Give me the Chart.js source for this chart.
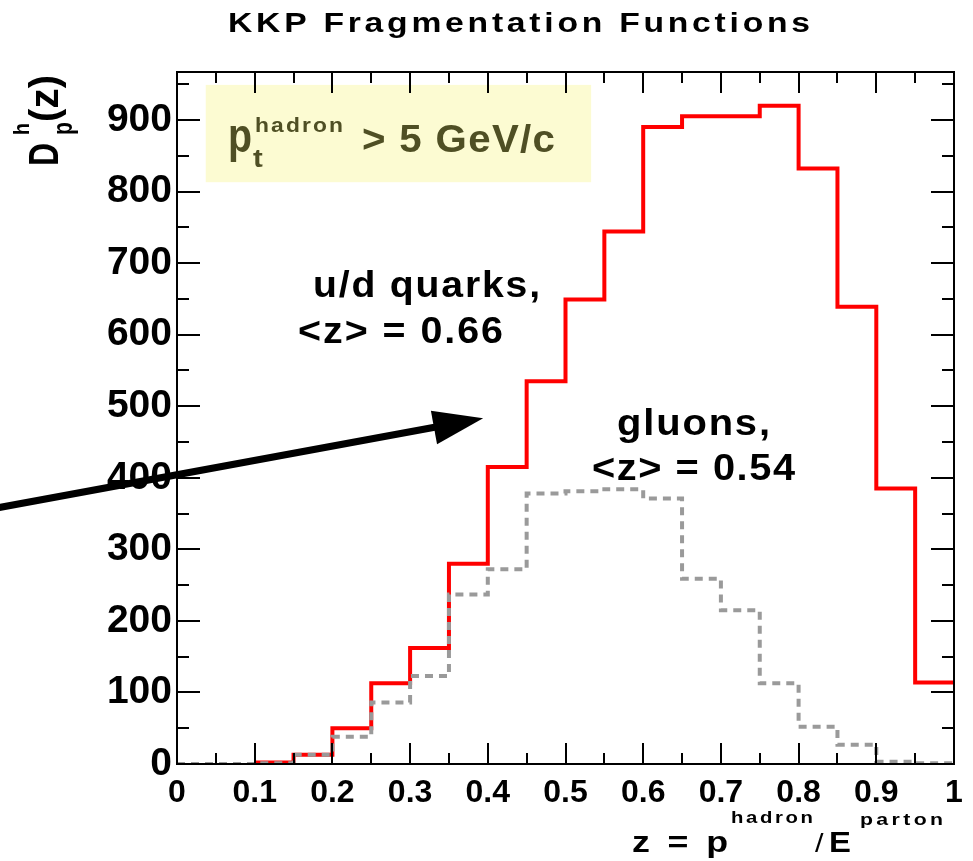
<!DOCTYPE html>
<html>
<head>
<meta charset="utf-8">
<script src="https://cdn.jsdelivr.net/npm/chart.js@4.4.0/dist/chart.umd.min.js"></script>
<style>
	html, body { margin: 0; padding: 0; background: #fff; }
</style>
</head>
<body>
<canvas id="graficoKkp" width="973" height="861"></canvas>
<script>
// bordas esquerdas dos bins (largura 0.05) e a borda final
var limitesBins = [0, 0.05, 0.10, 0.15, 0.20, 0.25, 0.30, 0.35, 0.40, 0.45, 0.50,
	0.55, 0.60, 0.65, 0.70, 0.75, 0.80, 0.85, 0.90, 0.95, 1.00];
// D(z) por bin
var quarksUD = [null, null, 2, 13, 50, 113, 162, 280, 415, 535, 649, 744, 890, 905, 905, 920, 832, 639, 385, 114];
var gluons = [0, 0, 1, 13, 38, 86, 123, 237, 272, 378, 381, 384, 371, 259, 215, 113, 52, 27, 3, 1];

var ticksX = [0, 0.1, 0.2, 0.3, 0.4, 0.5, 0.6, 0.7, 0.8, 0.9, 1];
var rotulosX = ['0', '0.1', '0.2', '0.3', '0.4', '0.5', '0.6', '0.7', '0.8', '0.9', '1'];
var ticksY = [0, 100, 200, 300, 400, 500, 600, 700, 800, 900];
var rotulosY = ['0', '100', '200', '300', '400', '500', '600', '700', '800', '900'];

var FONTE = "'Liberation Sans', Arial, Helvetica, sans-serif";

function pontosHistograma(valores) {
	var pontos = [];
	valores.forEach(function(v, i) {
		pontos.push({ x: limitesBins[i], y: v });
	});
	pontos.push({ x: limitesBins[valores.length], y: valores[valores.length - 1] });
	return pontos;
}

// escreve o texto até a largura pedida: parte esticando as letras, parte no espaçamento
function escreveAjustado(ctx, texto, x, y, fonte, largura) {
	ctx.save();
	ctx.font = fonte;
	ctx.letterSpacing = '0px';
	var natural = ctx.measureText(texto).width;
	var razao = largura / natural;
	var esc = razao < 1 ? razao : Math.min(Math.sqrt(razao), 1.25);
	ctx.translate(x, y);
	ctx.scale(esc, 1);
	if (texto.length > 1 && razao > esc) {
		ctx.letterSpacing = ((largura / esc - natural) / (texto.length - 1)) + 'px';
	}
	ctx.fillText(texto, 0, 0);
	ctx.restore();
}

var moldura = {
	id: 'moldura',
	beforeDatasetsDraw: function(chart) {
		var ctx = chart.ctx;
		var sx = chart.scales.x, sy = chart.scales.y;
		// caixa amarela do corte em pt
		var x0 = sx.getPixelForValue(0.037), x1 = sx.getPixelForValue(0.533);
		var y0 = sy.getPixelForValue(949), y1 = sy.getPixelForValue(813);
		ctx.save();
		ctx.fillStyle = '#fcfbd2';
		ctx.fillRect(x0, y0, x1 - x0, y1 - y0);
		ctx.restore();
	},
	afterDraw: function(chart) {
		var ctx = chart.ctx;
		var area = chart.chartArea;
		var sx = chart.scales.x, sy = chart.scales.y;
		ctx.save();

		// moldura e ticks para dentro, nos quatro lados
		ctx.strokeStyle = '#000';
		ctx.lineWidth = 2;
		ctx.strokeRect(area.left, area.top, area.right - area.left, area.bottom - area.top);
		ctx.beginPath();
		for (var vx = 0; vx <= 1.0001; vx += 0.05) {
			var px = Math.round(sx.getPixelForValue(vx));
			var maior = Math.abs(vx * 10 - Math.round(vx * 10)) < 0.01;
			var tl = maior ? 21 : 11;
			ctx.moveTo(px, area.bottom); ctx.lineTo(px, area.bottom - tl);
			ctx.moveTo(px, area.top); ctx.lineTo(px, area.top + tl);
		}
		for (var vy = 0; vy <= sy.max; vy += 50) {
			var py = Math.round(sy.getPixelForValue(vy));
			var tly = (vy % 100 === 0) ? 23 : 12;
			ctx.moveTo(area.left, py); ctx.lineTo(area.left + tly, py);
			ctx.moveTo(area.right, py); ctx.lineTo(area.right - tly, py);
		}
		ctx.stroke();

		// titulo
		ctx.fillStyle = '#000';
		ctx.textBaseline = 'alphabetic';
		ctx.textAlign = 'left';
		escreveAjustado(ctx, 'KKP Fragmentation Functions', 228, 32, 'bold 28px ' + FONTE, 582);

		// texto da caixa amarela
		ctx.fillStyle = '#4f4f24';
		escreveAjustado(ctx, 'p', 228, 152, 'bold 48px ' + FONTE, 24);
		escreveAjustado(ctx, 'hadron', 255, 132, 'bold 20px ' + FONTE, 88);
		escreveAjustado(ctx, 't', 253, 167, 'bold 26px ' + FONTE, 11);
		escreveAjustado(ctx, '> 5 GeV/c', 362, 152, 'bold 38px ' + FONTE, 193);

		// rotulos das curvas
		ctx.fillStyle = '#000';
		escreveAjustado(ctx, 'u/d quarks,', 313, 297, 'bold 36px ' + FONTE, 227);
		escreveAjustado(ctx, '<z> = 0.66', 298, 343, 'bold 36px ' + FONTE, 205);
		escreveAjustado(ctx, 'gluons,', 617, 435, 'bold 37px ' + FONTE, 153);
		escreveAjustado(ctx, '<z> = 0.54', 592, 480, 'bold 37px ' + FONTE, 203);

		// seta
		var ax0 = sx.getPixelForValue(-0.241), ay0 = sy.getPixelForValue(356);
		var ax1 = sx.getPixelForValue(0.394), ay1 = sy.getPixelForValue(483);
		var ang = Math.atan2(ay1 - ay0, ax1 - ax0);
		var comp = 50, meia = 17;
		var bx = ax1 - comp * Math.cos(ang), by = ay1 - comp * Math.sin(ang);
		ctx.strokeStyle = '#000';
		ctx.lineWidth = 7;
		ctx.beginPath();
		ctx.moveTo(ax0, ay0);
		ctx.lineTo(bx + 2 * Math.cos(ang), by + 2 * Math.sin(ang));
		ctx.stroke();
		ctx.beginPath();
		ctx.moveTo(ax1, ay1);
		ctx.lineTo(bx - meia * Math.sin(ang), by + meia * Math.cos(ang));
		ctx.lineTo(bx + meia * Math.sin(ang), by - meia * Math.cos(ang));
		ctx.closePath();
		ctx.fill();

		// titulo do eixo x
		escreveAjustado(ctx, 'z = p', 632, 852, 'bold 30px ' + FONTE, 96);
		escreveAjustado(ctx, 'hadron', 731, 823, 'bold 17px ' + FONTE, 82);
		escreveAjustado(ctx, '/', 815, 852, '26px ' + FONTE, 10);
		escreveAjustado(ctx, 'E', 829, 852, 'bold 30px ' + FONTE, 24);
		escreveAjustado(ctx, 'parton', 860, 825, 'bold 17px ' + FONTE, 83);

		// titulo do eixo y (girado)
		ctx.translate(58, 166);
		ctx.rotate(-Math.PI / 2);
		escreveAjustado(ctx, 'D', 0, 0, 'bold 43px ' + FONTE, 23);
		escreveAjustado(ctx, 'h', 31, -29, 'bold 22px ' + FONTE, 12);
		escreveAjustado(ctx, 'p', 31, 14, 'bold 28px ' + FONTE, 13);
		escreveAjustado(ctx, '(z)', 44, 0, 'bold 40px ' + FONTE, 47);

		ctx.restore();
	}
};

var grafico = new Chart(document.getElementById('graficoKkp').getContext('2d'), {
	type: 'line',
	data: {
		datasets: [
			{
				label: 'gluons',
				data: pontosHistograma(gluons),
				borderColor: '#9a9a9a',
				borderWidth: 4,
				borderDash: [8, 6],
				stepped: 'before',
				pointRadius: 0,
				fill: false,
				order: 0
			},
			{
				label: 'u/d quarks',
				data: pontosHistograma(quarksUD),
				borderColor: '#ff0000',
				borderWidth: 4,
				stepped: 'before',
				pointRadius: 0,
				fill: false,
				order: 1
			}
		]
	},
	options: {
		responsive: false,
		animation: false,
		devicePixelRatio: 1,
		layout: { padding: { top: 72, right: 19, left: 0, bottom: 0 } },
		plugins: {
			legend: { display: false },
			tooltip: { enabled: false },
			title: { display: false }
		},
		scales: {
			x: {
				type: 'linear',
				min: 0,
				max: 1,
				grid: { display: false, drawTicks: false },
				border: { display: false },
				afterBuildTicks: function(scale) {
					scale.ticks = ticksX.map(function(v) { return { value: v }; });
				},
				afterFit: function(scale) { scale.height = 97; },
				ticks: {
					autoSkip: false,
					maxRotation: 0,
					padding: 10,
					color: '#000',
					font: { family: FONTE, size: 32, weight: 'bold' },
					callback: function(valor, indice) { return rotulosX[indice]; }
				}
			},
			y: {
				type: 'linear',
				min: 0,
				max: 967,
				grid: { display: false, drawTicks: false },
				border: { display: false },
				afterBuildTicks: function(scale) {
					scale.ticks = ticksY.map(function(v) { return { value: v }; });
				},
				afterFit: function(scale) { scale.width = 177; },
				ticks: {
					padding: 5,
					color: '#000',
					font: { family: FONTE, size: 39, weight: 'bold' },
					callback: function(valor, indice) { return rotulosY[indice]; }
				}
			}
		}
	},
	plugins: [moldura]
});
</script>
</body>
</html>
